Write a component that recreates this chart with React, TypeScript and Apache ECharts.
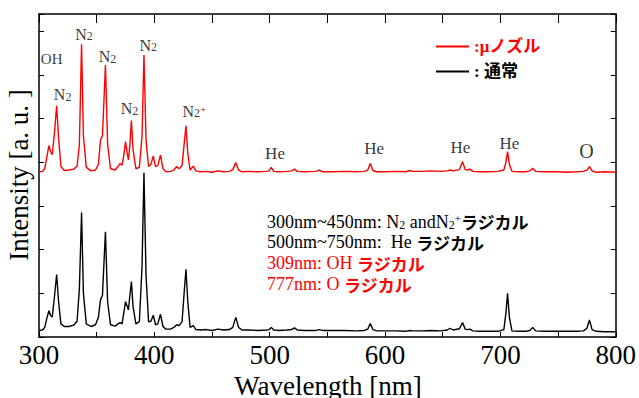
import React, { useEffect, useRef } from 'react';
import * as echarts from 'echarts';

// Wavelength grid (nm) shared by both spectra
const wavelengths = [
  300, 303, 305, 307, 308.6, 310, 311.5, 313.5, 315.3, 317, 319, 322, 326, 330, 333, 335, 336.9, 338.5, 341, 345,
  349, 351.5, 353.3, 355, 357.6, 359.5, 362, 366, 368.5, 370.3, 372, 373.5, 375, 376.5, 377.5, 378.8, 380.1, 381.5,
  384, 387, 389.3, 391, 392.8, 395, 397, 399.1, 401, 403, 405.3, 407.5, 410, 414, 417, 419.3, 421.5, 424, 425.8,
  427.4, 429, 431, 433.7, 436, 440, 445, 450, 455, 460, 465, 468, 470.6, 473, 476, 482, 490, 497, 499.5, 501.4,
  503.5, 508, 515, 519, 521.5, 524, 530, 540, 543, 546, 555, 565, 575, 582, 585, 587.2, 589.5, 593, 600, 610, 618,
  621.3, 624, 632, 640, 648, 654, 656.4, 659, 664.5, 667.2, 669.5, 671.5, 673.7, 676, 682, 690, 698, 703, 704.8,
  706.2, 707.8, 710, 716, 722, 725.5, 728, 730.5, 738, 748, 758, 766, 772, 775, 777.2, 779.5, 783, 790, 800,
];

// µ-nozzle spectrum (offset upward), arbitrary units
const microNozzle = [
  3.78, 3.79, 3.85, 4.15, 4.38, 4.25, 4.17, 4.7, 5.29, 4.55, 3.9, 3.81, 3.82, 3.84, 3.9, 4.4, 6.7, 4.6, 3.88, 3.8,
  3.82, 3.95, 4.51, 4.6, 6.22, 4.4, 3.85, 3.82, 3.9, 3.97, 3.93, 4.15, 4.47, 4.2, 4.05, 4.4, 4.95, 4.3,
  3.85, 3.88, 4.6, 6.45, 4.5, 3.9, 3.95, 4.14, 3.9, 3.92, 4.16, 3.85, 3.78, 3.79, 3.82, 3.9, 3.85, 3.92, 4.4,
  4.83, 4.2, 3.82, 3.91, 3.8, 3.78, 3.79, 3.77, 3.8, 3.78, 3.79, 3.83, 3.99, 3.82, 3.78, 3.79, 3.78, 3.79, 3.8, 3.88,
  3.79, 3.78, 3.79, 3.8, 3.84, 3.79, 3.78, 3.79, 3.82, 3.78, 3.78, 3.79, 3.78, 3.79, 3.82, 3.97, 3.81, 3.78, 3.78, 3.79, 3.78,
  3.81, 3.79, 3.79, 3.8, 3.79, 3.8, 3.82, 3.8, 3.83, 4.01, 3.83, 3.82, 3.84, 3.79, 3.78, 3.78, 3.79, 3.82, 4.0,
  4.24, 3.95, 3.79, 3.78, 3.78, 3.8, 3.86, 3.79, 3.78, 3.78, 3.77, 3.78, 3.79, 3.82, 3.9, 3.8, 3.77, 3.78, 3.77,
];

// normal nozzle spectrum, arbitrary units
const normalNozzle = [
  0.15, 0.16, 0.22, 0.45, 0.6, 0.5, 0.46, 0.95, 1.43, 0.8, 0.3, 0.24, 0.24, 0.27, 0.36, 1.1, 2.85, 1.0, 0.3, 0.24,
  0.28, 0.45, 0.85, 0.95, 2.41, 0.8, 0.28, 0.25, 0.3, 0.33, 0.3, 0.55, 0.81, 0.7, 0.62, 0.95, 1.27, 0.7,
  0.3, 0.35, 1.6, 3.76, 1.4, 0.35, 0.36, 0.5, 0.28, 0.3, 0.52, 0.24, 0.18, 0.18, 0.22, 0.28, 0.26, 0.35, 1.0,
  1.55, 0.8, 0.22, 0.26, 0.17, 0.16, 0.17, 0.15, 0.18, 0.16, 0.17, 0.22, 0.45, 0.22, 0.16, 0.16, 0.15, 0.16, 0.17, 0.22,
  0.16, 0.15, 0.16, 0.17, 0.21, 0.16, 0.15, 0.15, 0.17, 0.15, 0.15, 0.15, 0.14, 0.15, 0.18, 0.31, 0.17, 0.14, 0.14, 0.14, 0.13,
  0.15, 0.14, 0.14, 0.15, 0.14, 0.16, 0.2, 0.16, 0.19, 0.33, 0.18, 0.17, 0.18, 0.14, 0.13, 0.13, 0.13, 0.17, 0.55,
  1.0, 0.45, 0.14, 0.13, 0.13, 0.15, 0.22, 0.14, 0.13, 0.13, 0.13, 0.13, 0.14, 0.2, 0.39, 0.17, 0.13, 0.12, 0.12,
];

const seriesNames = [':μノズル', ': 通常'];
const seriesColors = ['#ff0000', '#000000'];

// Peak annotations: wavelength, height (data units), label text, font size
const annotationNm = [311, 320.5, 339, 359.4, 378.4, 394.8, 434.6, 504.6, 590.6, 665.3, 707.7, 774.7];
const annotationY = [6.35, 5.54, 6.93, 6.41, 5.22, 6.68, 5.16, 4.2, 4.32, 4.34, 4.43, 4.26];
const annotationText = ['OH', 'N{s|2}', 'N{s|2}', 'N{s|2}', 'N{s|2}', 'N{s|2}', 'N{s|2}{p|+}', 'He', 'He', 'He', 'He', 'O'];
const annotationSize = [15, 16, 16, 16, 16, 16, 16, 17, 17, 17, 17, 20];

const noteLines = [
  '300nm~450nm: N{s|2} andN{s|2}{p|+}{j|ラジカル}',
  '500nm~750nm:  He {j|ラジカル}',
  '309nm: OH {j|ラジカル}',
  '777nm: O {j|ラジカル}',
];
const noteColors = ['#000000', '#000000', '#ff0000', '#ff0000'];
const noteY = [221.7, 242.3, 263.3, 284.3];

const xTickValues = [300, 400, 500, 600, 700, 800];
const xAxisTitle = 'Wavelength [nm]';
const yAxisTitle = 'Intensity [a. u. ]';

const SERIF = 'Liberation Serif';
const JP = 'Noto Sans CJK JP';

export default function App() {
  const ref = useRef<HTMLDivElement>(null);
  useEffect(() => {
    if (!ref.current) return;
    const chart = echarts.init(ref.current, undefined, { renderer: 'svg' });

    const axisCommon = {
      type: 'value' as const,
      axisLine: { show: true, onZero: false, lineStyle: { color: '#000', width: 1.5 } },
      splitLine: { show: false },
    };

    const option: any = {
      animation: false,
      backgroundColor: '#ffffff',
      grid: { left: 39, right: 21, top: 14, bottom: 61 },
      xAxis: [
        {
          ...axisCommon,
          position: 'bottom',
          min: xTickValues[0],
          max: xTickValues[xTickValues.length - 1],
          interval: 100,
          axisTick: { inside: true, length: 5, lineStyle: { color: '#000', width: 1 } },
          minorTick: { show: true, splitNumber: 2, length: 5, lineStyle: { color: '#000', width: 1 } },
          axisLabel: { color: '#000', fontSize: 27, fontFamily: SERIF, margin: 4 },
        },
        {
          ...axisCommon,
          position: 'top',
          min: xTickValues[0],
          max: xTickValues[xTickValues.length - 1],
          interval: 100,
          axisTick: { inside: true, length: 9, lineStyle: { color: '#000', width: 1 } },
          minorTick: { show: true, splitNumber: 2, length: 9, lineStyle: { color: '#000', width: 1 } },
          axisLabel: { show: false },
        },
      ],
      yAxis: [
        {
          ...axisCommon,
          position: 'left',
          min: 0,
          max: 7.39,
          interval: 1,
          axisTick: { inside: true, length: 5, lineStyle: { color: '#000', width: 1 } },
          axisLabel: { show: false },
        },
        {
          ...axisCommon,
          position: 'right',
          min: 0,
          max: 7.39,
          interval: 1,
          axisTick: { inside: true, length: 5, lineStyle: { color: '#000', width: 1 } },
          axisLabel: { show: false },
        },
      ],
      legend: {
        orient: 'vertical',
        left: 431,
        top: 32,
        icon: 'rect',
        itemWidth: 33,
        itemHeight: 2,
        itemGap: 6,
        data: seriesNames.map((n, i) => ({ name: n, textStyle: { color: seriesColors[i] } })),
        textStyle: { fontSize: 17, fontWeight: 'bold', fontFamily: `${SERIF}, ${JP}`, lineHeight: 19 },
      },
      series: [
        {
          name: seriesNames[0],
          type: 'line',
          xAxisIndex: 0,
          yAxisIndex: 0,
          showSymbol: false,
          symbol: 'none',
          color: seriesColors[0],
          lineStyle: { color: seriesColors[0], width: 1.4 },
          data: wavelengths.map((w, i) => [w, microNozzle[i]]),
          z: 3,
        },
        {
          name: seriesNames[1],
          type: 'line',
          xAxisIndex: 0,
          yAxisIndex: 0,
          showSymbol: false,
          symbol: 'none',
          color: seriesColors[1],
          lineStyle: { color: seriesColors[1], width: 1.4 },
          data: wavelengths.map((w, i) => [w, normalNozzle[i]]),
          z: 2,
        },
        {
          name: 'annotations',
          type: 'scatter',
          xAxisIndex: 0,
          yAxisIndex: 0,
          symbolSize: 1,
          itemStyle: { color: 'transparent' },
          silent: true,
          data: annotationNm.map((nm, i) => ({
            value: [nm, annotationY[i]],
            label: {
              show: true,
              position: 'inside',
              formatter: annotationText[i],
              fontSize: annotationSize[i],
              fontFamily: SERIF,
              color: '#000',
              rich: {
                s: { fontSize: 12, fontFamily: SERIF, color: '#000', verticalAlign: 'bottom' },
                p: { fontSize: 11, fontFamily: SERIF, color: '#000', verticalAlign: 'top' },
              },
            },
          })),
        },
      ],
      graphic: [
        {
          type: 'text',
          x: 19,
          y: 175,
          rotation: Math.PI / 2,
          style: {
            text: yAxisTitle,
            fontSize: 27,
            fontFamily: SERIF,
            fill: '#000',
            align: 'center',
            verticalAlign: 'middle',
          },
        },
        {
          type: 'text',
          x: 328,
          y: 386,
          style: {
            text: xAxisTitle,
            fontSize: 27,
            fontFamily: SERIF,
            fill: '#000',
            align: 'center',
            verticalAlign: 'middle',
          },
        },
        ...noteLines.map((t, i) => ({
          type: 'text',
          x: 267,
          y: noteY[i],
          style: {
            text: t,
            fontSize: 18,
            lineHeight: 18,
            fontFamily: SERIF,
            fill: noteColors[i],
            align: 'left',
            verticalAlign: 'middle',
            rich: {
              s: { fontSize: 12, lineHeight: 14, fontFamily: SERIF, fill: noteColors[i], verticalAlign: 'bottom' },
              p: { fontSize: 11, lineHeight: 12, fontFamily: SERIF, fill: noteColors[i], verticalAlign: 'top' },
              j: { fontSize: 17, lineHeight: 18, fontFamily: JP, fontWeight: 'bold', fill: noteColors[i] },
            },
          },
        })),
      ],
    };
    chart.setOption(option);
    return () => chart.dispose();
  }, []);
  return (
    <div
      ref={ref}
      style={{ position: 'fixed', left: 0, top: 0, width: 639, height: 398, background: '#fff' }}
    />
  );
}
